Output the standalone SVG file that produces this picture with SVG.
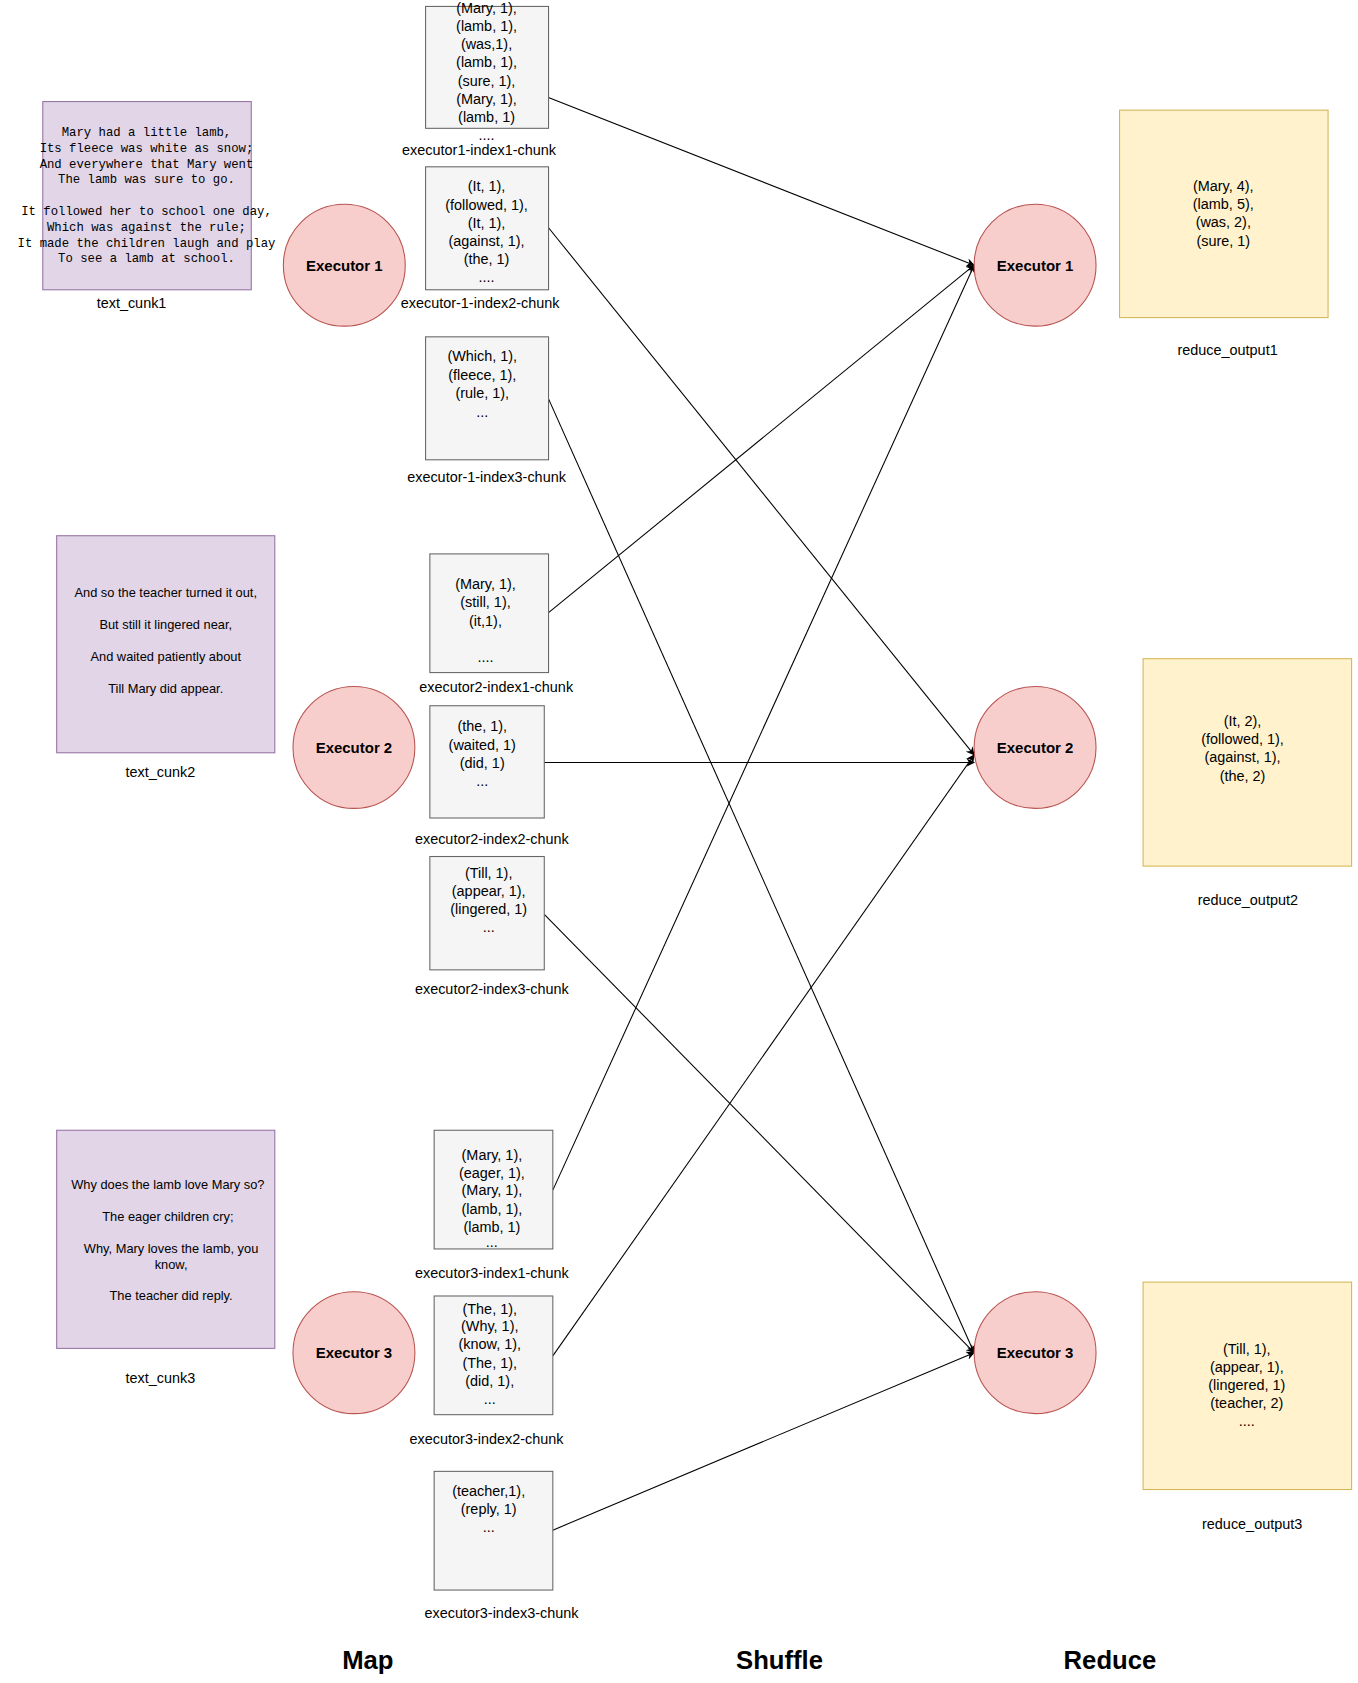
<svg xmlns="http://www.w3.org/2000/svg" width="1358" height="1683" viewBox="0 0 1358 1683">
<defs>
<marker id="ah" viewBox="0 0 10 10" refX="9" refY="5" markerWidth="8" markerHeight="8" orient="auto" markerUnits="userSpaceOnUse"><path d="M0,0 L10,5 L0,10 L3,5 Z" fill="#000"/></marker>
</defs>
<style>
.txt{font-family:"Liberation Sans",Arial,sans-serif;font-size:13.5px;fill:#000;text-anchor:middle}
.mono{font-family:"Liberation Mono","Courier New",monospace;font-size:11.5px;fill:#000;text-anchor:middle}
.poem{fill:#e1d5e7;stroke:#9673a6}
.ex{fill:#f8cecc;stroke:#b85450}
.chunk{fill:#f5f5f5;stroke:#666666}
.out{fill:#fff2cc;stroke:#d6b656}
.exl{font-family:"Liberation Sans",Arial,sans-serif;font-size:14px;font-weight:bold;text-anchor:middle}
.big{font-family:"Liberation Sans",Arial,sans-serif;font-size:24px;font-weight:bold;text-anchor:middle}
.edge{stroke:#000;stroke-width:1;fill:none;marker-end:url(#ah)}
</style>
<rect width="1358" height="1683" fill="#fff"/>
<g transform="scale(1.0693)">
<g id="edges">
<line class="edge" x1="482" y1="79" x2="911" y2="248"/>
<line class="edge" x1="513" y1="213" x2="911" y2="706"/>
<line class="edge" x1="513" y1="373" x2="911" y2="1265"/>
<line class="edge" x1="513" y1="573" x2="911" y2="248"/>
<line class="edge" x1="509" y1="713" x2="911" y2="713"/>
<line class="edge" x1="509" y1="855" x2="911" y2="1265"/>
<line class="edge" x1="517" y1="1113" x2="911" y2="248"/>
<line class="edge" x1="517" y1="1268" x2="911" y2="706"/>
<line class="edge" x1="517" y1="1431" x2="911" y2="1265"/>
</g>
<g id="text_cunk1">
<rect class="poem" x="40" y="95" width="195" height="176"/>
<text class="mono"><tspan x="137" y="127">Mary had a little lamb,</tspan><tspan x="137" y="142">Its fleece was white as snow;</tspan><tspan x="137" y="157">And everywhere that Mary went</tspan><tspan x="137" y="171">The lamb was sure to go.</tspan><tspan x="137" y="201">It followed her to school one day,</tspan><tspan x="137" y="216">Which was against the rule;</tspan><tspan x="137" y="231">It made the children laugh and play</tspan><tspan x="137" y="245">To see a lamb at school.</tspan></text>
<text class="txt" x="123" y="288">text_cunk1</text>
</g>
<g id="map_exec1"><circle class="ex" cx="322" cy="248" r="57"/><text class="exl" x="322" y="253">Executor 1</text></g>
<g id="e1i1">
<rect class="chunk" x="398" y="6" width="115" height="114"/>
<text class="txt"><tspan x="455" y="12">(Mary, 1),</tspan><tspan x="455" y="29">(lamb, 1),</tspan><tspan x="455" y="46">(was,1),</tspan><tspan x="455" y="63">(lamb, 1),</tspan><tspan x="455" y="80">(sure, 1),</tspan><tspan x="455" y="97">(Mary, 1),</tspan><tspan x="455" y="114">(lamb, 1)</tspan><tspan x="455" y="131">....</tspan></text>
<text class="txt" x="448" y="145">executor1-index1-chunk</text>
</g>
<g id="e1i2">
<rect class="chunk" x="398" y="156" width="115" height="115"/>
<text class="txt"><tspan x="455" y="179">(It, 1),</tspan><tspan x="455" y="196">(followed, 1),</tspan><tspan x="455" y="213">(It, 1),</tspan><tspan x="455" y="230">(against, 1),</tspan><tspan x="455" y="247">(the, 1)</tspan><tspan x="455" y="264">....</tspan></text>
<text class="txt" x="449" y="288">executor-1-index2-chunk</text>
</g>
<g id="e1i3">
<rect class="chunk" x="398" y="315" width="115" height="115"/>
<text class="txt"><tspan x="451" y="338">(Which, 1),</tspan><tspan x="451" y="355">(fleece,  1),</tspan><tspan x="451" y="372">(rule, 1),</tspan><tspan x="451" y="390">...</tspan></text>
<text class="txt" x="455" y="451">executor-1-index3-chunk</text>
</g>
<g id="text_cunk2">
<rect class="poem" x="53" y="501" width="204" height="203"/>
<text class="txt" style="font-size:12px"><tspan x="155" y="558">And so the teacher turned it out,</tspan><tspan x="155" y="588">But still it lingered near,</tspan><tspan x="155" y="618">And waited patiently about</tspan><tspan x="155" y="648">Till Mary did appear.</tspan></text>
<text class="txt" x="150" y="727">text_cunk2</text>
</g>
<g id="map_exec2"><circle class="ex" cx="331" cy="699" r="57"/><text class="exl" x="331" y="704">Executor 2</text></g>
<g id="e2i1">
<rect class="chunk" x="402" y="518" width="111" height="111"/>
<text class="txt"><tspan x="454" y="551">(Mary, 1),</tspan><tspan x="454" y="568">(still, 1),</tspan><tspan x="454" y="585">(it,1),</tspan><tspan x="454" y="619">....</tspan></text>
<text class="txt" x="464" y="647">executor2-index1-chunk</text>
</g>
<g id="e2i2">
<rect class="chunk" x="402" y="660" width="107" height="105"/>
<text class="txt"><tspan x="451" y="684">(the, 1),</tspan><tspan x="451" y="701">(waited, 1)</tspan><tspan x="451" y="718">(did, 1)</tspan><tspan x="451" y="735">...</tspan></text>
<text class="txt" x="460" y="789">executor2-index2-chunk</text>
</g>
<g id="e2i3">
<rect class="chunk" x="402" y="801" width="107" height="106"/>
<text class="txt"><tspan x="457" y="821">(Till, 1),</tspan><tspan x="457" y="838">(appear, 1),</tspan><tspan x="457" y="855">(lingered, 1)</tspan><tspan x="457" y="872">...</tspan></text>
<text class="txt" x="460" y="930">executor2-index3-chunk</text>
</g>
<g id="text_cunk3">
<rect class="poem" x="53" y="1057" width="204" height="204"/>
<text class="txt" style="font-size:12px"><tspan x="157" y="1112">Why does the lamb love Mary so?</tspan><tspan x="157" y="1142">The eager children cry;</tspan><tspan x="160" y="1172">Why, Mary loves the lamb, you</tspan><tspan x="160" y="1187">know,</tspan><tspan x="160" y="1216">The teacher did reply.</tspan></text>
<text class="txt" x="150" y="1293">text_cunk3</text>
</g>
<g id="map_exec3"><circle class="ex" cx="331" cy="1265" r="57"/><text class="exl" x="331" y="1270">Executor 3</text></g>
<g id="e3i1">
<rect class="chunk" x="406" y="1057" width="111" height="111"/>
<text class="txt"><tspan x="460" y="1085">(Mary, 1),</tspan><tspan x="460" y="1102">(eager, 1),</tspan><tspan x="460" y="1118">(Mary, 1),</tspan><tspan x="460" y="1135">(lamb, 1),</tspan><tspan x="460" y="1152">(lamb, 1)</tspan><tspan x="460" y="1166">...</tspan></text>
<text class="txt" x="460" y="1195">executor3-index1-chunk</text>
</g>
<g id="e3i2">
<rect class="chunk" x="406" y="1212" width="111" height="111"/>
<text class="txt"><tspan x="458" y="1229">(The, 1),</tspan><tspan x="458" y="1245">(Why, 1),</tspan><tspan x="458" y="1262">(know, 1),</tspan><tspan x="458" y="1279">(The, 1),</tspan><tspan x="458" y="1296">(did, 1),</tspan><tspan x="458" y="1313">...</tspan></text>
<text class="txt" x="455" y="1350">executor3-index2-chunk</text>
</g>
<g id="e3i3">
<rect class="chunk" x="406" y="1376" width="111" height="111"/>
<text class="txt"><tspan x="457" y="1399">(teacher,1),</tspan><tspan x="457" y="1416">(reply, 1)</tspan><tspan x="457" y="1433">...</tspan></text>
<text class="txt" x="469" y="1513">executor3-index3-chunk</text>
</g>
<g id="red_exec1"><circle class="ex" cx="968" cy="248" r="57"/><text class="exl" x="968" y="253">Executor 1</text></g>
<g id="red_exec2"><circle class="ex" cx="968" cy="699" r="57"/><text class="exl" x="968" y="704">Executor 2</text></g>
<g id="red_exec3"><circle class="ex" cx="968" cy="1265" r="57"/><text class="exl" x="968" y="1270">Executor 3</text></g>
<g id="reduce_output1">
<rect class="out" x="1047" y="103" width="195" height="194"/>
<text class="txt"><tspan x="1144" y="179">(Mary, 4),</tspan><tspan x="1144" y="195">(lamb, 5),</tspan><tspan x="1144" y="212">(was, 2),</tspan><tspan x="1144" y="230">(sure, 1)</tspan></text>
<text class="txt" x="1148" y="332">reduce_output1</text>
</g>
<g id="reduce_output2">
<rect class="out" x="1069" y="616" width="195" height="194"/>
<text class="txt"><tspan x="1162" y="679">(It, 2),</tspan><tspan x="1162" y="696">(followed, 1),</tspan><tspan x="1162" y="713">(against, 1),</tspan><tspan x="1162" y="730">(the, 2)</tspan></text>
<text class="txt" x="1167" y="846">reduce_output2</text>
</g>
<g id="reduce_output3">
<rect class="out" x="1069" y="1199" width="195" height="194"/>
<text class="txt"><tspan x="1166" y="1266">(Till, 1),</tspan><tspan x="1166" y="1283">(appear, 1),</tspan><tspan x="1166" y="1300">(lingered, 1)</tspan><tspan x="1166" y="1317">(teacher, 2)</tspan><tspan x="1166" y="1334">....</tspan></text>
<text class="txt" x="1171" y="1430">reduce_output3</text>
</g>
<text class="big" x="344" y="1561">Map</text>
<text class="big" x="729" y="1561">Shuffle</text>
<text class="big" x="1038" y="1561">Reduce</text>
</g>
</svg>
